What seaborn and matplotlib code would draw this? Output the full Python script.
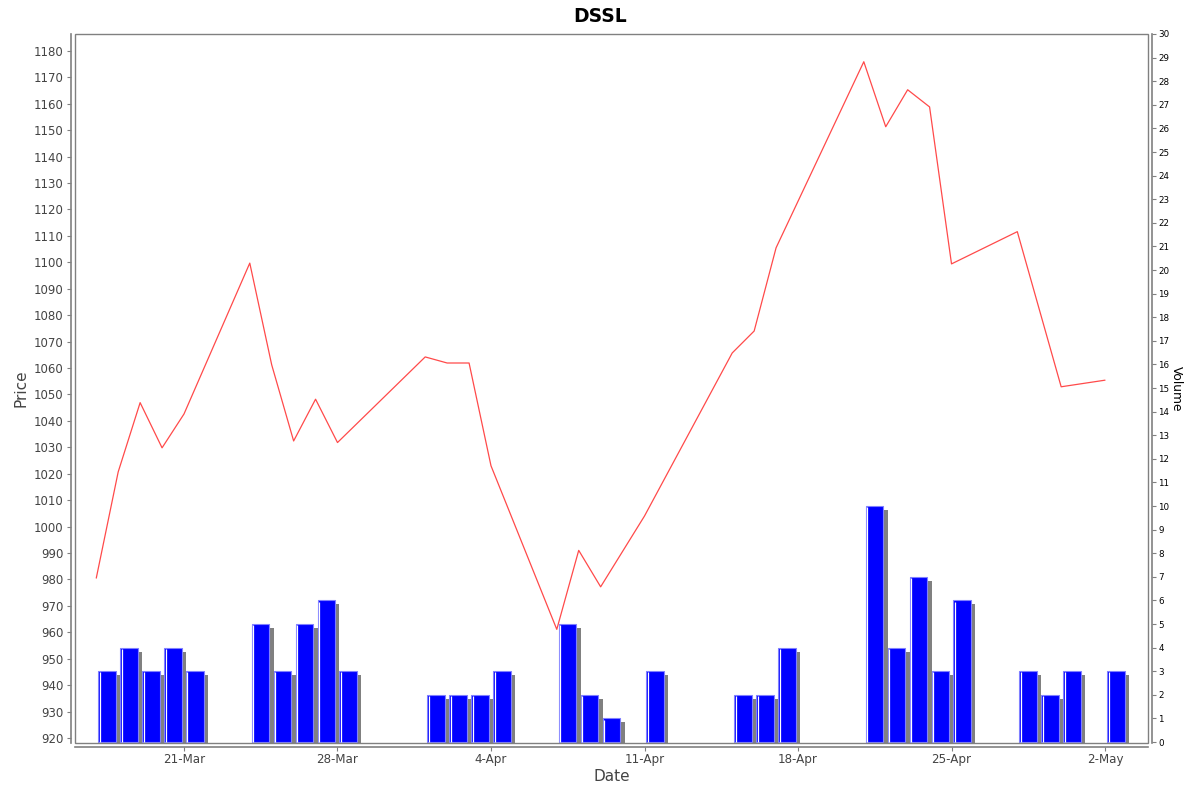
import pandas as pd
import matplotlib
matplotlib.use('Agg')
import matplotlib.pyplot as plt
import matplotlib.dates as mdates
from matplotlib.patches import Rectangle
import seaborn as sns

# 价格数据
price_dates = ['2014-03-17', '2014-03-18', '2014-03-19', '2014-03-20', '2014-03-21',
               '2014-03-24', '2014-03-25', '2014-03-26', '2014-03-27', '2014-03-28',
               '2014-04-01', '2014-04-02', '2014-04-03', '2014-04-04',
               '2014-04-07', '2014-04-08', '2014-04-09', '2014-04-11',
               '2014-04-15', '2014-04-16', '2014-04-17',
               '2014-04-21', '2014-04-22', '2014-04-23', '2014-04-24', '2014-04-25',
               '2014-04-28', '2014-04-30', '2014-05-02']
prices = [980.5, 1020.7, 1046.9, 1029.8, 1042.6,
          1099.7, 1061.2, 1032.4, 1048.2, 1031.8,
          1064.2, 1061.9, 1061.9, 1023.0,
          961.1, 991.0, 977.2, 1004.0,
          1065.7, 1074.0, 1105.5,
          1175.9, 1151.3, 1165.3, 1158.8, 1099.4,
          1111.6, 1052.9, 1055.4]

# 成交量数据
vol_dates = ['2014-03-17', '2014-03-18', '2014-03-19', '2014-03-20', '2014-03-21',
             '2014-03-24', '2014-03-25', '2014-03-26', '2014-03-27', '2014-03-28',
             '2014-04-01', '2014-04-02', '2014-04-03', '2014-04-04',
             '2014-04-07', '2014-04-08', '2014-04-09', '2014-04-11',
             '2014-04-15', '2014-04-16', '2014-04-17',
             '2014-04-21', '2014-04-22', '2014-04-23', '2014-04-24', '2014-04-25',
             '2014-04-28', '2014-04-29', '2014-04-30', '2014-05-02']
volumes = [3, 4, 3, 4, 3,
           5, 3, 5, 6, 3,
           2, 2, 2, 3,
           5, 2, 1, 3,
           2, 2, 4,
           10, 4, 7, 3, 6,
           3, 2, 3, 3]

price_df = pd.DataFrame({'date': pd.to_datetime(price_dates), 'price': prices})
vol_df = pd.DataFrame({'date': pd.to_datetime(vol_dates), 'volume': volumes})
price_df['x'] = mdates.date2num(price_df['date'])
vol_df['x'] = mdates.date2num(vol_df['date'])

sns.set_style('white')
plt.rcParams['font.family'] = ['DejaVu Sans']

fig = plt.figure(figsize=(12, 7.92), dpi=100)
ax = fig.add_axes([75 / 1200, (792 - 743) / 792, (1148 - 75) / 1200, (743 - 34) / 792])
ax2 = ax.twinx()
ax.set_zorder(ax2.get_zorder() + 1)
ax.patch.set_visible(False)

# 成交量柱（带阴影）
bar_off = 0.09
bar_w = 0.8
ax2.bar(vol_df['x'] + bar_off + 0.2, vol_df['volume'], width=bar_w, bottom=-0.17,
        align='edge', color='#808080', linewidth=0, zorder=1)
ax2.bar(vol_df['x'] + bar_off, vol_df['volume'], width=bar_w, align='edge',
        color='#0000ff', edgecolor='#8080ff', linewidth=0.8, zorder=2)
ax2.vlines(vol_df['x'] + bar_off + 0.07, 0, vol_df['volume'] - 0.05,
           color='white', linewidth=0.9, zorder=3)

# 价格折线
sns.lineplot(data=price_df, x='x', y='price', ax=ax, color='#ff4a4a', linewidth=0.9)

d0 = mdates.date2num(pd.Timestamp('2014-03-21'))
ax.set_xlim(d0 - 4.97, d0 + 43.96)
ax.set_ylim(918.1, 1186.4)
ax2.set_ylim(-0.04, 30)

ax.set_yticks(range(920, 1181, 10))
ax2.set_yticks(range(0, 31))
ax.set_xticks(mdates.date2num(pd.date_range('2014-03-21', '2014-05-02', freq='7D')))
ax.xaxis.set_major_formatter(mdates.DateFormatter('%-d-%b'))

gray = '#808080'
for a in (ax, ax2):
    for s in a.spines.values():
        s.set_visible(False)
ax.spines['left'].set_visible(True)
ax.spines['bottom'].set_visible(True)
ax2.spines['right'].set_visible(True)
for s in (ax.spines['left'], ax.spines['bottom'], ax2.spines['right']):
    s.set_position(('outward', 2.9))
    s.set_color(gray)
    s.set_linewidth(1.2)

ax.add_patch(Rectangle((0, 0), 1, 1, transform=ax.transAxes, fill=False,
                       edgecolor=gray, linewidth=1.0, clip_on=False, zorder=5))

ax.tick_params(axis='y', left=True, length=2.9, width=0.8, color=gray, pad=2.5,
               labelsize=8.5, labelcolor='#444444')
ax.tick_params(axis='x', bottom=True, length=2.9, width=0.8, color=gray, pad=1.5,
               labelsize=8.6, labelcolor='#444444')
ax2.tick_params(axis='y', right=True, length=2.9, width=0.8, color=gray, pad=1.5,
                labelsize=6.3, labelcolor='black')

ax.set_xlabel('Date', fontsize=11, color='#444444', labelpad=2)
ax.set_ylabel('Price', fontsize=11, color='#444444', labelpad=4)
ax2.set_ylabel('Volume', fontsize=8.8, color='black', rotation=270, labelpad=10)
fig.suptitle('DSSL', fontsize=13.5, fontweight='bold', color='black',
             y=1 - 16 / 792, va='center')

fig.savefig('out.png', dpi=100)
